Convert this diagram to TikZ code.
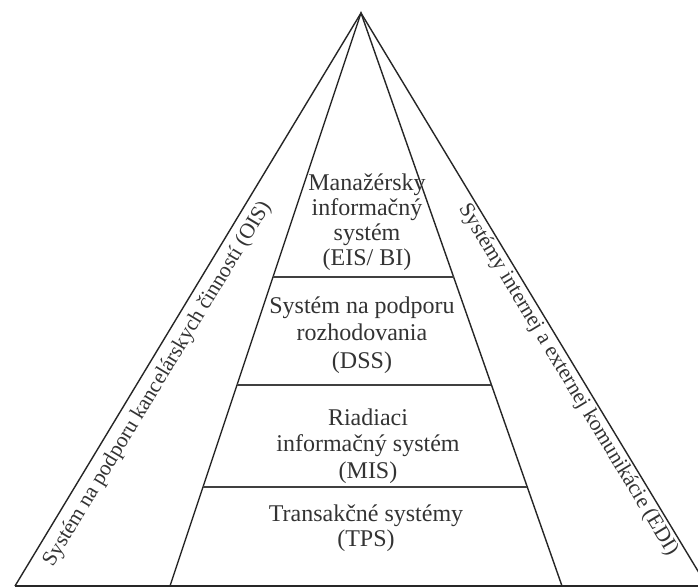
\documentclass[tikz,border=0pt]{standalone}
\usepackage{fontspec}
\setmainfont{Liberation Serif}
\usetikzlibrary{calc}
\newcommand\lvtext[1]{\begin{tabular}[t]{@{}c@{}}#1\end{tabular}}
\begin{document}
\begin{tikzpicture}[x=1pt,y=-1pt,
  edge/.style={draw=black!85,line width=1.4pt},
  level/.style={draw=black!75,line width=1.1pt},
  lbl/.style={text=black!80,inner sep=0pt,anchor=base,font=\fontsize{24}{26}\selectfont},
  side/.style={text=black!80,inner sep=0pt,font=\fontsize{21.5}{24}\selectfont}]
\useasboundingbox (0,0) rectangle (698,588);
\clip (0,0) rectangle (698,588);
\fill[white] (0,0) rectangle (698,588);
% key points
\coordinate (A) at (361,13);
\coordinate (OL) at (15,586);
\coordinate (OR) at (707,586);
\coordinate (IL) at (170,586);
\coordinate (IR) at (562,586);
% outer and inner sides
\draw[edge] (OL) -- (A) -- (OR);
\draw[edge] (IL) -- (A) -- (IR);
\draw[edge] (OL) -- (OR);
% level separators
\coordinate (L1) at ($(A)!0.4607!(IL)$);
\coordinate (R1) at ($(A)!0.4607!(IR)$);
\coordinate (L2) at ($(A)!0.6492!(IL)$);
\coordinate (R2) at ($(A)!0.6492!(IR)$);
\coordinate (L3) at ($(A)!0.8272!(IL)$);
\coordinate (R3) at ($(A)!0.8272!(IR)$);
\draw[level] (L1) -- (R1);
\draw[level] (L2) -- (R2);
\draw[level] (L3) -- (R3);
% level texts (anchored at the baseline of their first line)
\node[lbl,font=\fontsize{24}{25}\selectfont] (eis) at (367,190) {\lvtext{Manažérsky\\informačný\\systém\\(EIS/ BI)}};
\node[lbl,font=\fontsize{24}{27.5}\selectfont] (dss) at (362,313) {\lvtext{Systém na podporu\\rozhodovania\\(DSS)}};
\node[lbl,font=\fontsize{24}{26.5}\selectfont] (mis) at (368,425) {\lvtext{Riadiaci\\informačný systém\\(MIS)}};
\node[lbl,font=\fontsize{24}{25.5}\selectfont] (tps) at (366,521) {\lvtext{Transakčné systémy\\(TPS)}};
% side texts
\node[side,rotate=58.9] (ois) at (157.5,384) {Systém na podporu kancelárskych činností (OIS)};
\node[side,rotate=-58.9] (edi) at (568,380) {Systémy internej a externej komunikácie (EDI)};
\end{tikzpicture}
\end{document}
